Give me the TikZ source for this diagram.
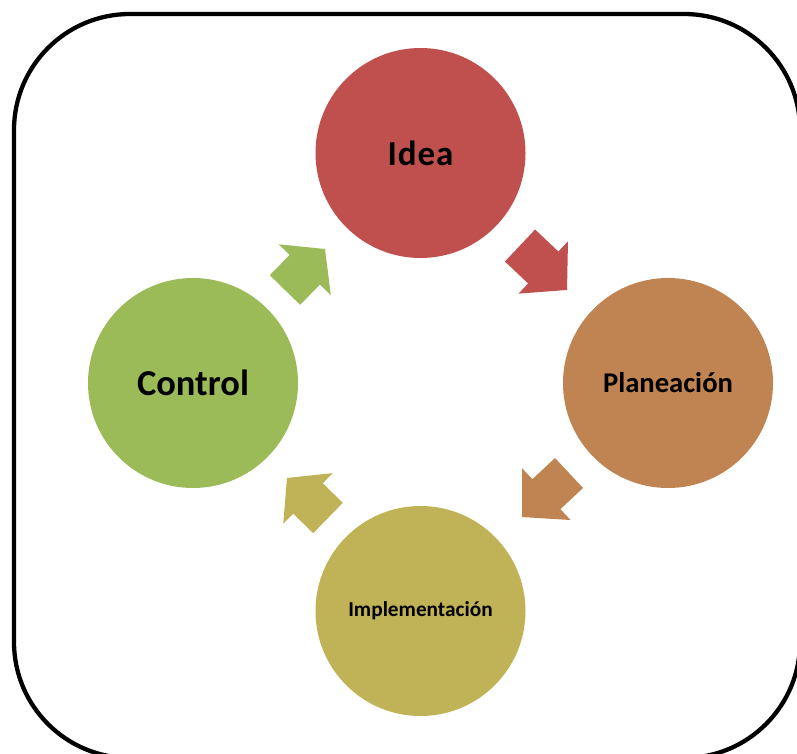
\documentclass[tikz,border=0pt]{standalone}
\usepackage{fontspec}
\setmainfont{Carlito}
\definecolor{cidea}{RGB}{192,80,77}
\definecolor{cplan}{RGB}{192,131,82}
\definecolor{cimpl}{RGB}{191,178,87}
\definecolor{cctrl}{RGB}{155,187,89}
% #1 colour, #2 tail centre, #3 angle, #4 shaft length, #5 total length, #6 shaft half width, #7 head half width
\newcommand\cycarrow[7]{%
  \fill[#1,shift={#2},rotate=#3]
    (0,-#6) -- (#4,-#6) -- (#4,-#7) -- (#5,0) -- (#4,#7) -- (#4,#6) -- (0,#6) -- cycle;}
\begin{document}
\begin{tikzpicture}[x=1pt,y=-1pt,
  cyc/.style={circle,minimum size=210pt,inner sep=0pt,text=black,font=\bfseries}]
\useasboundingbox (0,0) rectangle (797,754);
\clip (0,0) rectangle (797,754);
\draw[line width=4.3pt,rounded corners=116pt] (14,14) rectangle (800,758);
\node[cyc,fill=cidea] (idea) at (420.5,153) {\fontsize{35}{40}\selectfont I\kern1pt d\kern1pt e\kern1pt a};
\node[cyc,fill=cplan] (plan) at (668,383) {\fontsize{28.6}{32}\selectfont Planeación};
\node[cyc,fill=cimpl] (impl) at (420.5,611) {\fontsize{21.3}{25}\selectfont Implementación};
\node[cyc,fill=cctrl] (ctrl) at (193,383) {\fontsize{36.5}{40}\selectfont Control};
\cycarrow{cidea}{(520,245.5)}{-43.4}{32}{64.7}{22}{36}
\cycarrow{cplan}{(569,473)}{-136.9}{31}{64.4}{20.5}{35.4}
\cycarrow{cimpl}{(328,518)}{135.7}{28}{57.3}{21.2}{35.4}
\cycarrow{cctrl}{(285,290)}{45.7}{28.3}{57.3}{21.2}{36.4}
\end{tikzpicture}
\end{document}
